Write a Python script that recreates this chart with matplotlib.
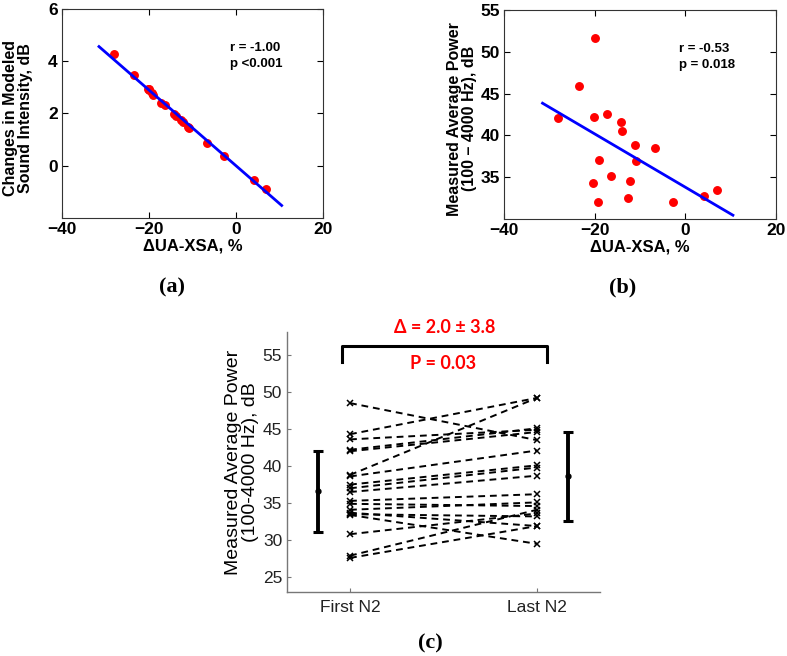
import numpy as np
import matplotlib
matplotlib.use("Agg")
import matplotlib.pyplot as plt

plt.rcParams["font.family"] = ["Liberation Sans", "DejaVu Sans"]

# ---- data ----
# panels (a) and (b): per-subject change in UA-XSA (%)
dua_xsa = [-28.0, -23.5, -20.3, -20.1, -20.0, -19.3, -19.1, -17.2, -16.4, -14.2,
           -13.9, -12.7, -12.2, -11.0, -10.8, -6.6, -2.8, 4.1, 7.0]
# (a) changes in modeled sound intensity, dB
modeled_db = [4.28, 3.47, 2.95, 2.92, 2.90, 2.78, 2.72, 2.42, 2.32, 1.97,
              1.92, 1.76, 1.68, 1.50, 1.45, 0.87, 0.38, -0.54, -0.88]
# (b) measured average power, dB
measured_db = [42.1, 45.9, 34.3, 42.2, 51.6, 32.0, 37.1, 42.6, 35.1, 41.6,
               40.5, 32.5, 34.6, 38.9, 36.9, 38.5, 32.0, 32.7, 33.5]
fit_x = [-31.5, 10.5]
fit_a = (-0.1448, 0.0)     # slope, intercept
fit_b = (-0.319, 33.8)

# (c) first vs last N2 per subject
first_n2 = [48.5, 44.3, 43.6, 42.2, 42.0, 38.8, 38.6, 37.5, 37.0, 36.5,
            35.3, 34.9, 34.1, 33.7, 33.5, 33.4, 30.8, 27.9, 27.6]
last_n2 = [43.5, 49.2, 44.9, 45.1, 44.6, 49.2, 42.1, 40.1, 39.8, 38.7,
           36.2, 34.6, 35.1, 31.9, 33.2, 29.5, 33.6, 34.1, 31.9]
group_mean = [36.6, 38.6]
group_err = [5.5, 6.0]
groups = ["First N2", "Last N2"]

fig = plt.figure(figsize=(7.87, 6.56), dpi=100)


def scatter_panel(ax, y, fit, ylim, yticks, ylabel, stats):
    ax.plot(dua_xsa, y, "o", color="red", ms=5.4, zorder=3)
    fx = np.array(fit_x)
    ax.plot(fx, fit[0] * fx + fit[1], color="blue", lw=2.0, zorder=4)
    ax.set_xlim(-40, 20)
    ax.set_ylim(*ylim)
    ax.set_xticks([-40, -20, 0, 20])
    ax.set_yticks(yticks)
    ax.tick_params(direction="in", top=True, right=True, length=4,
                   width=0.8, labelsize=12.5, pad=3)
    for lab in ax.get_xticklabels() + ax.get_yticklabels():
        lab.set_fontweight("bold")
    for s in ax.spines.values():
        s.set_linewidth(0.8)
        s.set_color("#333333")
    ax.set_xlabel("\u0394UA-XSA, %", fontsize=12, fontweight="bold")
    ax.xaxis.set_label_coords(0.5, -0.1)
    ax.set_ylabel(ylabel, fontsize=11.5, fontweight="bold", linespacing=1.0)
    ax.yaxis.set_label_coords(-0.11, 0.48)
    ax.text(0.645, 0.84, stats, transform=ax.transAxes, fontsize=9.5,
            fontweight="bold", va="top", ha="left", linespacing=1.35)


ax_a = fig.add_axes([0.0788, 0.6677, 0.3316, 0.3186])
scatter_panel(ax_a, modeled_db, fit_a, (-2, 6), [0, 2, 4, 6],
              "Changes in Modeled\nSound Intensity, dB", "r = -1.00\np <0.001")

ax_b = fig.add_axes([0.6404, 0.6662, 0.3456, 0.3186])
scatter_panel(ax_b, measured_db, fit_b, (30, 55), [35, 40, 45, 50, 55],
              "Measured Average Power\n(100 \u2013 4000 Hz), dB",
              "r = -0.53\np = 0.018")
ax_b.yaxis.set_label_coords(-0.10, 0.48)

# ---- panel (c) ----
ax_c = fig.add_axes([0.3647, 0.0976, 0.3977, 0.3963])
for f, l in zip(first_n2, last_n2):
    ax_c.plot([1, 2], [f, l], color="black", ls=(0, (3.5, 2.5)), lw=1.4,
              marker="x", ms=4.5, mew=1.1)
ax_c.errorbar([0.83, 2.166], group_mean, yerr=group_err, fmt="o",
              color="black", ms=3.5, elinewidth=2.8, capsize=3.5,
              capthick=2.2)
ax_c.set_xlim(0.663, 2.337)
ax_c.set_ylim(23, 58.1)
ax_c.set_xticks([1, 2])
ax_c.set_xticklabels(groups)
ax_c.set_yticks([25, 30, 35, 40, 45, 50, 55])
ax_c.spines["top"].set_visible(False)
ax_c.spines["right"].set_visible(False)
for s in ("left", "bottom"):
    ax_c.spines[s].set_color("#777777")
    ax_c.spines[s].set_linewidth(1.0)
ax_c.tick_params(direction="in", length=3, color="#777777", labelsize=12.5,
                 labelcolor="#222222")
ax_c.tick_params(axis="x", labelsize=12.5, pad=6)
ax_c.set_ylabel("Measured Average Power\n(100-4000 Hz), dB", fontsize=14,
                linespacing=1.0)
ax_c.yaxis.set_label_coords(-0.09, 0.5)

# significance bracket
ax_c.plot([0.957, 0.957, 2.053, 2.053], [54.0, 56.2, 56.2, 54.0],
          color="black", lw=2.2, clip_on=False)
ax_c.text(1.508, 58.7, "\u0394 = 2.0 \u00b1 3.8", color="red", fontsize=13,
          fontweight="bold", ha="center", va="center", clip_on=False,
          family=["Lato", "DejaVu Sans"])
ax_c.text(1.5, 53.9, "P = 0.03", color="red", fontsize=13,
          fontweight="bold", ha="center", va="center",
          family=["Lato", "DejaVu Sans"])

# panel letters
for x, y, s in [(172, 287, "(a)"), (623, 287, "(b)"), (430, 643, "(c)")]:
    fig.text(x / 787, 1 - y / 656, s, fontsize=16, fontweight="bold",
             ha="center", va="center", family=["Liberation Serif"])

fig.savefig("out.png", dpi=100)
